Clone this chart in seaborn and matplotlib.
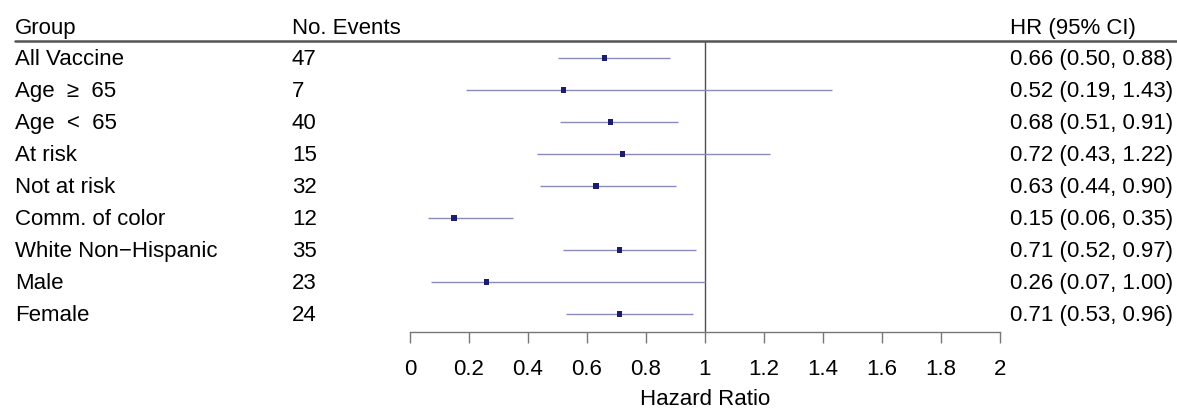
import matplotlib
matplotlib.use("Agg")
import matplotlib.pyplot as plt
import matplotlib.transforms as mtransforms
from matplotlib.lines import Line2D
import seaborn as sns
import pandas as pd

# values
groups = ["All Vaccine", "Age  \u2265  65", "Age  <  65", "At risk", "Not at risk",
          "Comm. of color", "White Non\u2212Hispanic", "Male", "Female"]
events = [47, 7, 40, 15, 32, 12, 35, 23, 24]
hr = [0.66, 0.52, 0.68, 0.72, 0.63, 0.15, 0.71, 0.26, 0.71]
ci_low = [0.50, 0.19, 0.51, 0.43, 0.44, 0.06, 0.52, 0.07, 0.53]
ci_high = [0.88, 1.43, 0.91, 1.22, 0.90, 0.35, 0.97, 1.00, 0.96]
x_ticks = [0, 0.2, 0.4, 0.6, 0.8, 1, 1.2, 1.4, 1.6, 1.8, 2]

df = pd.DataFrame({"group": groups, "events": events, "hr": hr,
                   "lo": ci_low, "hi": ci_high})
df["row"] = range(len(df))

sns.set_theme(style="white")
plt.rcParams["font.family"] = ["Liberation Sans", "DejaVu Sans"]
plt.rcParams["text.color"] = "black"
plt.rcParams["xtick.color"] = "black"
plt.rcParams["axes.labelcolor"] = "black"
fs = 16

W, H = 1177, 411
fig = plt.figure(figsize=(W / 100, H / 100), dpi=100)
# axes spans x 0..2 and the rows between the header rule and the axis line
ax = fig.add_axes([410 / W, 1 - 332 / H, 590 / W, (332 - 41.5) / H])

ax.hlines(df["row"], df["lo"], df["hi"], color="#8a8abf", lw=1.0, zorder=2)
sns.scatterplot(data=df, x="hr", y="row", marker="s", s=16, color="#1c1c70",
                edgecolor="none", ax=ax, zorder=3)
ax.axvline(1, color="#4d4d4d", lw=1.0, zorder=1)

ax.set_xlim(0, 2)
ax.set_ylim((332 - 58) / 32, (41.5 - 58) / 32)
ax.set_xticks(x_ticks)
ax.set_xticklabels([f"{t:g}" for t in x_ticks], fontsize=fs)
ax.set_yticks([])
ax.set_ylabel("")
ax.set_xlabel("Hazard Ratio", fontsize=fs, labelpad=6.5)
for s in ["top", "left", "right"]:
    ax.spines[s].set_visible(False)
ax.spines["bottom"].set_color("#777777")
ax.spines["bottom"].set_linewidth(1.0)
ax.tick_params(axis="x", direction="out", length=8, width=1.0, color="#777777",
               labelcolor="black", pad=11.5, bottom=True)

# text columns: x in figure fraction, y in row units (baseline sits 7px below the row)
trans = mtransforms.blended_transform_factory(fig.transFigure, ax.transData)
col_group, col_events, col_hr = 15 / W, 292 / W, 1010 / W
base_off = 7 / 32
head_y = (34 - 58) / 32
for x, label in [(col_group, "Group"), (col_events, "No. Events"), (col_hr, "HR (95% CI)")]:
    ax.text(x, head_y, label, transform=trans, ha="left", va="baseline",
            fontsize=fs, clip_on=False)
for _, r in df.iterrows():
    y = r["row"] + base_off
    ax.text(col_group, y, r["group"], transform=trans, ha="left",
            va="baseline", fontsize=fs, clip_on=False)
    ax.text(col_events, y, f"{r['events']}", transform=trans, ha="left",
            va="baseline", fontsize=fs, clip_on=False)
    ax.text(col_hr, y, f"{r['hr']:.2f} ({r['lo']:.2f}, {r['hi']:.2f})",
            transform=trans, ha="left", va="baseline", fontsize=fs, clip_on=False)

# header rule
fig.add_artist(Line2D([15 / W, 1.0], [1 - 41.5 / H, 1 - 41.5 / H],
                      transform=fig.transFigure, color="#555555", lw=1.8))

fig.savefig("out.png", dpi=100)
